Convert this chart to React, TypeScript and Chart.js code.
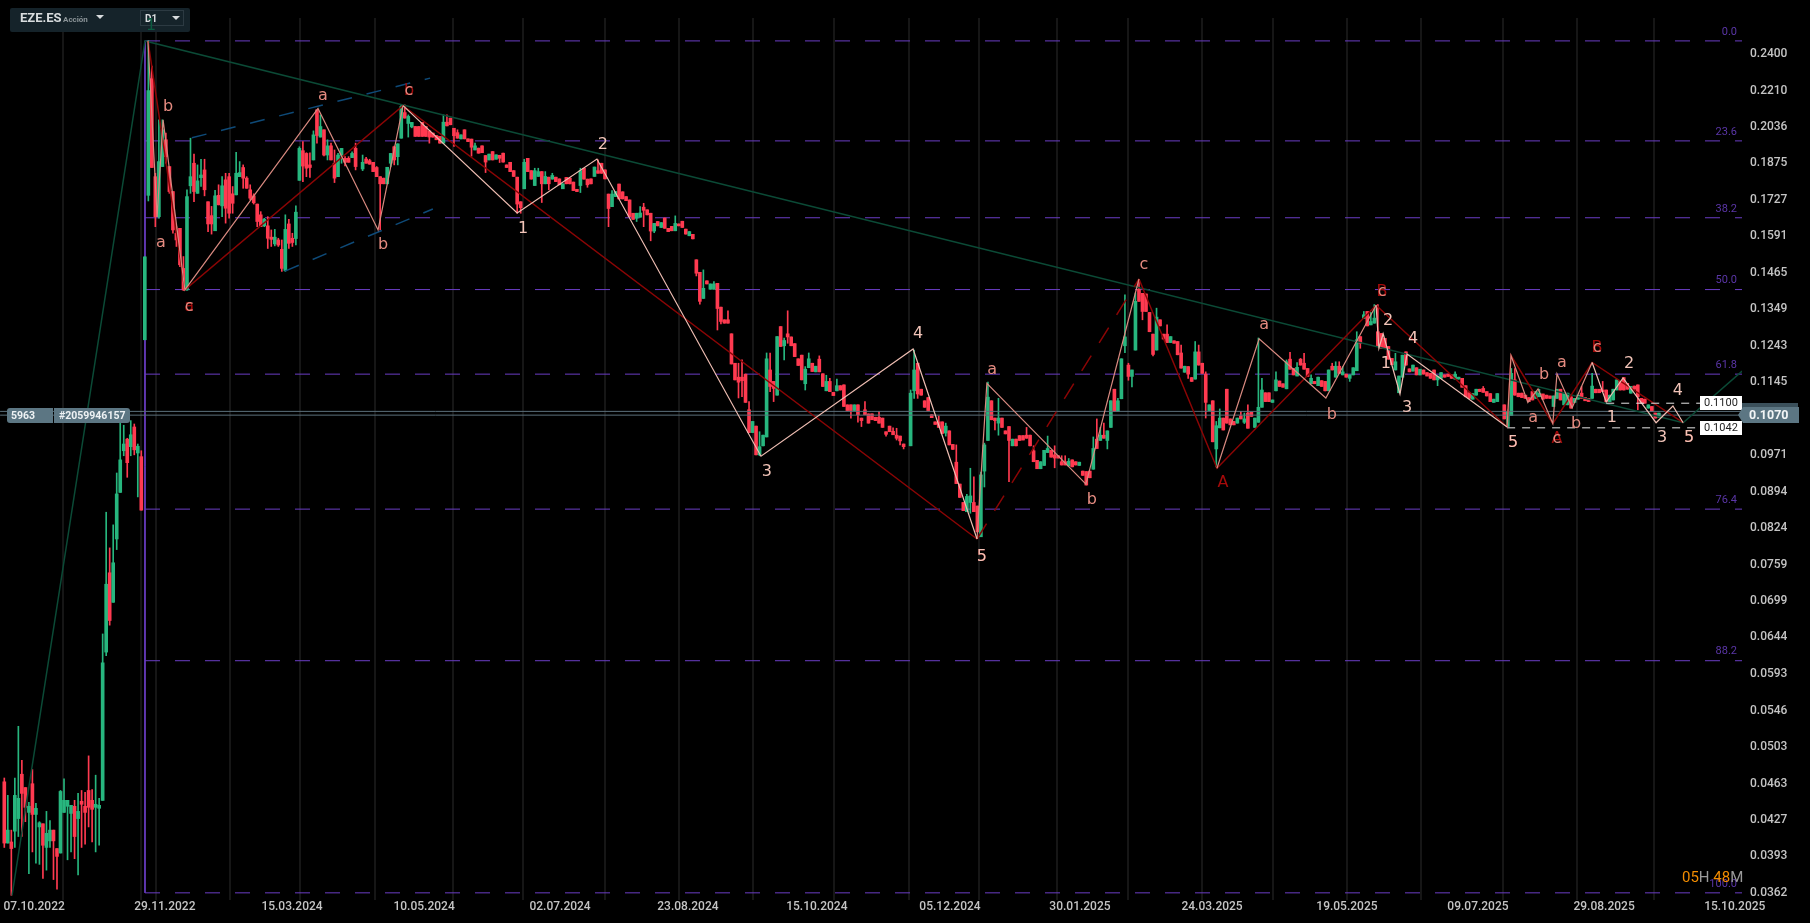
import React, { useEffect, useRef } from "react";
import { Chart, registerables } from "chart.js";

Chart.register(...registerables);

// Each row: [open, close, high?, low?] — price values.
const rally: (number | undefined)[][] = [
[.0465,.0405,.0469,.0401],[.0405,.0417,.0451,.0405],[.0406,.0400,.0417,.0360],[.0416,.0451,.0469,.0401],[.0428,.0448,.0527,.0411],
[.0473,.0453,.0488,.0411],[.0459,.0439,.0459,.0425],[.0434,.0440,.0444,.0378],[.0463,.0432,.0478,.0397],[.0432,.0438,.0443,.0387],
[.0420,.0424,.0425,.0386],[.0423,.0403,.0423,.0374],[.0401,.0414,.0435,.0381],[.0407,.0417,.0426,.0401],[.0417,.0407,.0417,.0373],
[.0400,.0393,.0400,.0365],[.0396,.0455,.0456,.0396],[.0434,.0446,.0468,.0434],[.0440,.0446,.0446,.0390],[.0433,.0441,.0441,.0397],
[.0440,.0411,.0446,.0391],[.0428,.0435,.0453,.0377],[.0445,.0442,.0456,.0401],[.0440,.0434,.0454,.0404],[.0456,.0439,.0493,.0420],
[.0446,.0437,.0457,.0406],[.0439,.0442,.0472,.0397],[.0438,.0441,.0448,.0403],[.0446,.0608,.0649,.0446],[.0623,.0726,.0854,.0618],
[.0745,.0669,.0788,.0662],[.0697,.0762,.0830,.0697],[.0804,.0890,.0933,.0785],[.0893,.0961,.1050,.0893],[.0981,.0996,.1039,.0970],
[.1007,.0955,.1009,.0924],[.0990,.1017,.1050,.0970],[.1035,.0983,.1042,.0972],[.0976,.0991,.0996,.0884],[.0968,.0858,.0981,.0858],
];
const topping: (number | undefined)[][] = [
[.1260,.1519],[.1745,.2210,.2475,.1723],[.2270,.1858,.2336],[.1820,.1663,.1834,.1626],[.1663,.1883,.2069,.1657],[.1862,.2023,.2069],
[.1978,.1904,.2008,.1876],[.1862,.1760,,.1753],[.1760,.1614,,.1602],[.1602,.1578,.1626,.1555],[.1620,.1492,,.1486],[.1480,.1410,.1520,.1408],
[.1410,.1740,.1767,.1408],[.1783,.1820,.1985,.1753],[.1876,.1760,.1915,.1720],[.1753,.1803,.1869],[.1816,.1827,.1893,.1780],[.1848,.1767,.1893,.1743],
[.1720,.1636,,.1608],[.1667,.1636,.1702,.1599],[.1611,.1743,.1765],[.1745,.1708,.1787],[.1704,.1783,.1820,.1663],[.1807,.1695,.1834,.1639],
[.1820,.1676,.1834,.1657],[.1751,.1714,.1780,.1676],[.1747,.1834,.1923],[.1820,.1837,.1883],[.1858,.1814,.1869,.1773],[.1814,.1773,.1820],
[.1767,.1734,.1787,.1727],[.1743,.1716,.1751,.1711],[.1711,.1645,,.1626],[.1670,.1626,.1682],[.1629,.1653,.1657,.1626],[.1629,.1584,.1663,.1548],
[.1588,.1580,.1614,.1555],[.1564,.1588,.1616,.1557],[.1578,.1560,.1584,.1555],[.1545,.1480,.1578,.1470],[.1473,.1616,.1670,.1470],[.1636,.1566,.1653,.1548],
[.1584,.1569,.1602,.1555],[.1583,.1680,.1704,.1560],[.1805,.1940,.1947],[.1930,.1864,.1970,.1800],[.1918,.1855,.1921,.1820],[.1869,.1858,.1921,.1817],
[.1890,.2000,.2018],[.2116,.1997,,.1963],[.1990,.2038,.2092],[.2023,.1911,,.1907],[.1911,.1951,.1978,.1890],[.1951,.1890,.1963],[.1876,.1814,.1933,.1796],
[.1820,.1911,.1918],[.1911,.1940,,.1876],[.1897,.1880,.1904,.1865],[.1897,.1880,.1904],[.1900,.1918,.1925],[.1940,.1862,.1963,.1848],
];
const toppingLate: (number | undefined)[][] = [
[.1852,.1880,.1911,.1845],[.1894,.1876,.1901],[.1887,.1872,.1893],[.1880,.1841],[.1858,.1820,.1862],[.1820,.1791,,.1614],[.1814,.1791],[.1791,.1859],
[.1876,.1918,,.1862],[.1947,.1890,.1950,.1869],[.1904,.1960,,.1869],[.1985,.2132,.2140],[.2103,.2077,.2140],[.2052,.2085,.2092,.1990],[.2036,.2057,,.2032],
[.2038,.1993],[.2038,.1993],[.2057,.1993],[.2038,.1993],[.2018,.1990,,.1963],[.2008,.1990],[.1997,.1978],[.1993,.1963],[.1963,.2058,.2092],[.2058,.2041,.2092],[.2077,.2046],
];
const decline: (number | undefined)[][] = [
[.2030,.1996,,.1948],[.2010,.1985,.2023],[.1982,.2000],[.2023,.1982],[.1982,.1970],[.1981,.1945,,.1906],[.1933,.1951,.1963],[.1941,.1919],[.1951,.1921],[.1909,.1881,,.1837],
[.1890,.1915],[.1926,.1890],[.1893,.1912],[.1910,.1897,,.1879],[.1919,.1881],[.1869,.1858],[.1880,.1841],[.1845,.1821],[.1818,.1711,,.1676],[.1720,.1697,,.1676],
[.1771,.1880,.1893],[.1897,.1841],[.1845,.1810],[.1784,.1845,.1855],[.1821,.1841,.1855],[.1841,.1791,,.1717],[.1791,.1821,.1841],[.1818,.1791,,.1767],[.1810,.1825,.1834],[.1818,.1800],
[.1811,.1787],[.1771,.1791],[.1817,.1791],[.1814,.1791],[.1798,.1764],[.1769,.1760],[.1784,.1845,.1855,.1756],[.1855,.1810],[.1810,.1787,,.1777],[.1811,.1791],
[.1821,.1860],[.1845,.1834,.1890],[.1876,.1834],[.1848,.1811],[.1750,.1694,,.1626],[.1701,.1750,.1764],[.1740,.1760],[.1790,.1731],[.1759,.1731],[.1740,.1724],
[.1727,.1663],[.1676,.1653],[.1657,.1676,,.1645],[.1661,.1677,.1701],[.1699,.1687,.1714,.1626],[.1689,.1670],[.1676,.1610,,.1575],[.1610,.1638,,.1604],[.1645,.1629],[.1623,.1641],
[.1658,.1620],[.1620,.1608],[.1627,.1611],[.1611,.1638,.1666],[.1636,.1629],[.1646,.1623],[.1617,.1599],[.1593,.1608],[.1598,.1582],
];
const breakdown: (number | undefined)[][] = [
[.1509,.1464,,.1455],[.1467,.1374,,.1365],[.1383,.1415,.1475],[.1439,.1429],[.1412,.1429],[.1412,.1429,.1437],[.1431,.1352,,.1288],[.1356,.1313,,.1306],[.1318,.1308],[.1318,.1308,.1345],
[.1277,.1193],[.1195,.1151],[.1158,.1145,.1195,.1105],[.1158,.1149,.1204,.1108],[.1166,.1094],[.1076,.1022,.1096],[.1022,.1048],[.1037,.0972],[.0972,.0990,.1024,.0970],[.0992,.1016],
[.1012,.1207,.1223],[.1177,.1134,.1223,.1121],[.1147,.1129,,.1096],[.1112,.1269],[.1298,.1241],[.1243,.1258,.1265,.1204],[.1277,.1268,.1345,.1250],[.1268,.1243],[.1249,.1213],[.1207,.1189],
[.1217,.1151],[.1141,.1179,.1186,.1125],[.1183,.1207,.1223],[.1195,.1173],[.1172,.1187],[.1206,.1172,.1215],[.1167,.1134],[.1123,.1147,.1163],[.1147,.1121,.1155],[.1119,.1111],
[.1123,.1136,.1153],[.1136,.1125],[.1138,.1084],[.1088,.1074],[.1088,.1074,,.1056],[.1074,.1088],[.1088,.1064,,.1046],[.1056,.1050,,.1036],[.1076,.1064,.1096],[.1066,.1044],
[.1066,.1052],[.1058,.1050],[.1058,.1044,.1072],[.1056,.1034],[.1024,.1018,,.1014],[.1037,.1024],[.1025,.1017,.1033],[.1016,.1009,.1032,.1005],[.1014,.1003,,.0994],[.0996,.0990,,.0985],
];
const rebound: (number | undefined)[][] = [
[.0992,.1117,.1125],[.1123,.1177,.1231,.1104],[.1195,.1115,,.1104],[.1127,.1112],[.1098,.1082],[.1106,.1074],[.1064,.1057],[.1047,.1041],[.1047,.1034,.1061],[.1047,.1020],
[.1021,.1037,.1044,.1014],[.1026,.0994],[.0995,.0984],[.0956,.0911,.0994],[.0910,.0883],[.0873,.0857],[.0855,.0885,.0889],[.0873,.0886,.0943,.0852],[.0873,.0855,.0925],[.0866,.0817],
[.0808,.0929,.0935],[.0937,.0994,.0998,.0904],[.1004,.1107,.1145],[.1098,.1052],[.1056,.1050,,.1028],[.1044,.1056,.1104,.1016],[.1056,.1034],[.1026,.1019],[.1036,.1004,,.0915],[.0992,.1007],
[.1007,.0992],[.1015,.1004],[.1015,.1005],[.1016,.1009,.1034],[.1016,.0992],[.0981,.0957,.0992],[.0960,.0942],[.0942,.0957],[.0949,.0982],[.0977,.0986,.1014],
[.0982,.0967],[.0972,.0965,.0992,.0944],[.0970,.0965],[.0957,.0950,.0970],[.0957,.0950,.0970],[.0948,.0958,.0964],[.0961,.0946],[.0957,.0950],[.0949,.0956],[.0937,.0928],
[.0936,.0908],[.0937,.0923],[.0941,.0986,.1012],[.1007,.0986,.1054],[.1004,.1016,.1034],[.1016,.1009,.1044],[.1004,.1026,,.0985],[.1034,.1098],[.1127,.1072],[.1072,.1098,.1104],
[.1103,.1207],[.1243,.1268,.1394,.1224],
];
const range2025: (number | undefined)[][] = [
[.1190,.1160,.1195,.1150],[.1160,.1177,,.1133],[.1231,.1374,.1400],[.1412,.1374,.1444],[.1399,.1343,,.1318],[.1397,.1343],[.1340,.1283],[.1276,.1219,,.1215],[.1231,.1326,.1353],[.1318,.1300],
[.1276,.1262],[.1276,.1252,.1303],[.1252,.1269],[.1257,.1250],[.1255,.1218],[.1223,.1182,.1245],[.1171,.1187],[.1186,.1166,,.1155],[.1157,.1147],[.1153,.1226,.1255],
[.1226,.1190,.1245],[.1195,.1168],[.1166,.1094,.1172,.1056],[.1074,.1088],[.1098,.1001],[.0985,.1038,.1048,.0946],[.1033,.1056,.1078],[.1056,.1028],[.1127,.1044],[.1054,.1040],
[.1048,.1040],[.1044,.1056],[.1061,.1054,.1072],[.1046,.1054,.1068,.1043],[.1068,.1032,.1088],[.1070,.1060],[.1034,.1056],[.1046,.1082,.1265],[.1082,.1125,.1155],[.1118,.1096],
[.1118,.1096],[.1094,.1100],[.1123,.1151,.1172],[.1148,.1134],[.1141,.1132],[.1128,.1199,.1204],[.1206,.1179,.1225],[.1181,.1164],[.1161,.1184,.1197],[.1206,.1190,.1208],
[.1195,.1179,.1222],[.1181,.1160],[.1141,.1155,.1164],[.1147,.1141],[.1136,.1158],[.1149,.1134],[.1147,.1123],[.1123,.1177],[.1187,.1177,.1195],[.1158,.1187,.1199],
[.1187,.1168,.1199],[.1164,.1172,.1186],[.1166,.1158],[.1155,.1164,,.1147],[.1164,.1183],[.1175,.1260,.1283],[.1269,.1250,,.1236],[.1322,.1333,.1343],[.1343,.1300],[.1303,.1313,.1340],
[.1308,.1323,.1364],[.1283,.1241,.1364],[.1278,.1236],[.1264,.1236],[.1241,.1206],[.1208,.1191],[.1177,.1199,.1222],[.1118,.1161],[.1158,.1217],[.1226,.1190],
[.1180,.1172],[.1174,.1190],[.1183,.1164],[.1164,.1179],[.1177,.1166],[.1170,.1161],[.1168,.1155],[.1177,.1151],[.1151,.1161,,.1136],[.1155,.1170],
[.1164,.1158],[.1166,.1160],[.1164,.1155],[.1153,.1166,.1172],[.1153,.1158],[.1155,.1132],[.1136,.1108],[.1118,.1104],[.1102,.1116],[.1112,.1127],
[.1127,.1121],[.1129,.1119,.1134],[.1121,.1110],[.1116,.1096],[.1094,.1102],[.1096,.1116],
];
const finale: (number | undefined)[][] = [
[.1088,.1054],[.1036,.1070,.1076],[.1062,.1168,.1181],[.1151,.1112,.1181],[.1117,.1108],[.1117,.1106],[.1112,.1104],[.1106,.1096],[.1121,.1100],[.1104,.1121],
[.1108,.1117,.1127],[.1115,.1102],[.1112,.1104],[.1110,.1104],[.1084,.1110],[.1104,.1127],[.1127,.1100],[.1088,.1117],[.1088,.1117],[.1108,.1080],
[.1094,.1104],[.1102,.1112],[.1117,.1104,.1134],[.1106,.1098],[.1104,.1096],[.1104,.1135,.1168],[.1127,.1118],[.1127,.1118],[.1125,.1121,.1147],[.1125,.1096],
[.1096,.1112],[.1100,.1127],[.1125,.1151],[.1147,.1125],[.1157,.1125],[.1142,.1127],[.1117,.1134],[.1135,.1127],[.1138,.1108,,.1076],[.1104,.1092],
[.1102,.1092],[.1080,.1088],[.1084,.1072],[.1068,.1056],[.1058,.1068],
];
const segmentStarts = [0, 40, 102, 128, 197, 258, 320, 427];
const segments = [rally, topping, toppingLate, decline, breakdown, rebound, range2025, finale];

const yTicks = [0.24, 0.221, 0.2036, 0.1875, 0.1727, 0.1591, 0.1465, 0.1349, 0.1243, 0.1145, 0.1055, 0.0971, 0.0894, 0.0824, 0.0759, 0.0699, 0.0644, 0.0593, 0.0546, 0.0503, 0.0463, 0.0427, 0.0393, 0.0362];
const xTickIndex = [8.5, 45.7, 81.9, 119.5, 158.2, 194.6, 231.3, 269.2, 306.2, 343.8, 382.2, 419.5, 455.4, 492.6];
const xTickText = ["07.10.2022", "29.11.2022", "15.03.2024", "10.05.2024", "02.07.2024", "23.08.2024", "15.10.2024", "05.12.2024", "30.01.2025", "24.03.2025", "19.05.2025", "09.07.2025", "29.08.2025", "15.10.2025"];
const gridIndex = [16.7, 38.9, 43.2, 64.2, 84.2, 105.5, 127.7, 147.7, 171, 192.1, 213.1, 236.2, 257.5, 277.5, 299.7, 319.9, 341, 361.1, 382.3, 403.3, 426.6, 447.7, 469.6];

const fibPrices = [0.2472, 0.1973, 0.1659, 0.1411, 0.1166, 0.086, 0.0611, 0.0362];
const fibNames = ["0.0", "23.6", "38.2", "50.0", "61.8", "76.4", "88.2", "100.0"];
const fibStart = 40.05;
const fibEnd = 494.7;

const majorWave = [[2.2, 0.036], [40.05, 0.2472], [477.9, 0.1045], [494.7, 0.1174]];
const redWaveA = [[40.9, 0.2472], [51.4, 0.141], [113.5, 0.2136], [276.9, 0.0804]];
const redWaveDash = [[276.9, 0.0804], [323, 0.1445]];
const redWaveB = [[323, 0.1445], [345.2, 0.0943], [390.5, 0.1362], [427.8, 0.1035], [428.9, 0.1216], [440.8, 0.1043], [452, 0.1197], [477.9, 0.1045]];
const salmonA = [[40.9, 0.2472], [43.5, 0.1662], [45.2, 0.2069], [51.4, 0.141], [89.3, 0.2123], [106.4, 0.1614], [113.5, 0.2136]];
const salmonB = [[276.9, 0.0804], [279.7, 0.1142], [307.9, 0.091], [323, 0.1445]];
const salmonC = [[345.2, 0.0943], [357.2, 0.1263], [376.2, 0.1105], [390.5, 0.1362]];
const salmonD = [[427.8, 0.1035], [428.9, 0.1216], [433.7, 0.1094], [436.6, 0.1128], [440.8, 0.1043], [442, 0.1167], [446.3, 0.1081], [452, 0.1197]];
const paleA = [[113.5, 0.2136], [146, 0.1677], [168.7, 0.1894], [215.4, 0.0969], [258.7, 0.1234], [276.9, 0.0804]];
const paleB = [[390.5, 0.1362], [391.3, 0.1236], [392.5, 0.1277], [397.3, 0.1115], [399.3, 0.122], [427.8, 0.1035]];
const paleC = [[452, 0.1197], [456, 0.1095], [460.8, 0.1156], [470.2, 0.1045], [475, 0.1085], [477.9, 0.1045]];
const channelTop = [[53.4, 0.1987], [121.2, 0.2273]];
const channelBottom = [[79.9, 0.1471], [122, 0.1692]];
const whiteLow = [[427.8, 0.1033], [482.7, 0.1033]];
const whiteHigh = [[456, 0.1092], [482.7, 0.1092]];
const priceLineA = [[-1.2, 0.1072], [494.7, 0.1072]];
const priceLineB = [[-1.2, 0.1063], [494.7, 0.1063]];

const PALE = "#f2c4b8";
const SALMON = "#e58b80";
const DARKRED = "#a50a0a";
const DARKGREEN = "#0b5a3f";
// [candle index, price, text, colour] — later rows paint over earlier ones.
const waveLabels: [number, number, string, string][] = [
  [147.7, 0.1618, "1", PALE], [170.4, 0.1955, "2", PALE], [217.1, 0.0935, "3", PALE], [260.1, 0.1277, "4", PALE],
  [278.3, 0.0773, "5", DARKRED], [278.3, 0.0773, "5", PALE], [393.9, 0.1315, "2", PALE], [401, 0.1263, "4", PALE],
  [393.3, 0.1193, "1", PALE], [399.3, 0.1081, "3", PALE], [429.5, 0.0998, "5", DARKRED], [429.5, 0.0998, "5", PALE],
  [457.6, 0.1057, "1", PALE], [462.5, 0.1193, "2", PALE], [471.9, 0.101, "3", PALE], [476.4, 0.1122, "4", PALE],
  [479.6, 0.101, "5", DARKGREEN], [479.6, 0.101, "5", DARKRED], [479.6, 0.101, "5", PALE],
  [46.6, 0.213, "b", SALMON], [44.6, 0.1567, "a", SALMON], [52.6, 0.1357, "a", DARKRED], [52.6, 0.1357, "c", SALMON],
  [90.7, 0.2186, "a", SALMON], [115.2, 0.2207, "b", DARKRED], [115.2, 0.2207, "c", SALMON], [107.8, 0.156, "b", SALMON],
  [281.2, 0.1177, "a", SALMON], [309.6, 0.0878, "b", SALMON], [324.4, 0.1492, "c", SALMON], [358.6, 0.1303, "a", SALMON],
  [377.9, 0.1064, "b", SALMON], [392.2, 0.1403, "B", DARKRED], [392.2, 0.1403, "c", SALMON], [346.9, 0.0912, "A", DARKRED],
  [435.2, 0.1057, "a", SALMON], [438.3, 0.1163, "b", SALMON], [443.4, 0.1196, "a", SALMON], [447.4, 0.1043, "b", SALMON],
  [442, 0.1008, "A", DARKRED], [442, 0.1008, "c", SALMON], [453.4, 0.1237, "B", DARKRED], [453.4, 0.1237, "c", SALMON],
  [41.8, 0.257, "1", DARKGREEN],
];

const UP = "#27b67e";
const DOWN = "#ff3a50";
const FIB = "#6a3dc4";

function pts(list: number[][]) {
  return list.map(([x, y]) => ({ x, y }));
}
function line(list: number[][], color: string, width: number, order: number, dash: number[] = []) {
  return {
    type: "line" as const,
    data: pts(list),
    borderColor: color,
    borderWidth: width,
    borderDash: dash,
    pointRadius: 0,
    tension: 0,
    fill: false,
    order,
  };
}

const candleRows = segments.flatMap((seg, s) =>
  seg.map((r, j) => {
    const [o, c, h, l] = r as number[];
    return { i: segmentStarts[s] + j, o, c, h: h ?? Math.max(o, c), l: l ?? Math.min(o, c) };
  })
);

const overlayPlugin = {
  id: "overlay",
  afterDatasetsDraw(chart: any) {
    const { ctx, scales } = chart;
    const X = scales.x;
    const Y = scales.y;
    ctx.save();
    ctx.textBaseline = "middle";
    // wave labels
    ctx.textAlign = "center";
    ctx.font = '16px "DejaVu Sans"';
    for (const [i, p, t, col] of waveLabels) {
      ctx.fillStyle = col;
      ctx.fillText(t, X.getPixelForValue(i), Y.getPixelForValue(p));
    }
    // fibonacci names
    ctx.textAlign = "right";
    ctx.font = '11px Roboto';
    ctx.fillStyle = "#5b36a8";
    fibNames.forEach((n, k) => ctx.fillText(n, 1737, Y.getPixelForValue(fibPrices[k]) - 9));
    // header
    ctx.textAlign = "left";
    ctx.fillStyle = "#15232a";
    ctx.beginPath();
    ctx.roundRect(10, 8, 180, 24, 2);
    ctx.fill();
    ctx.font = 'bold 13px Roboto';
    ctx.fillStyle = "#d8dcde";
    ctx.fillText("EZE.ES", 20, 19);
    ctx.font = 'bold 8px Roboto';
    ctx.fillStyle = "#8b9498";
    ctx.fillText("Acción", 63, 20);
    ctx.fillStyle = "#d8dcde";
    ctx.beginPath(); ctx.moveTo(96, 15); ctx.lineTo(104, 15); ctx.lineTo(100, 19); ctx.fill();
    ctx.beginPath(); ctx.moveTo(172, 16); ctx.lineTo(180, 16); ctx.lineTo(176, 20); ctx.fill();
    ctx.strokeStyle = "#2c3a42";
    ctx.lineWidth = 1;
    ctx.strokeRect(140.5, 10.5, 43, 15);
    ctx.font = 'bold 10px Roboto';
    ctx.fillText("D1", 145, 19);
    ctx.font = '16px "DejaVu Sans"';
    ctx.textAlign = "center";
    ctx.fillStyle = DARKGREEN;
    ctx.fillText("1", 151, 26);
    // left tag
    ctx.textAlign = "left";
    ctx.fillStyle = "#5c7683";
    ctx.beginPath(); ctx.roundRect(7, 408, 46, 15, [3, 0, 0, 3]); ctx.fill();
    ctx.beginPath(); ctx.roundRect(54, 408, 76, 15, [0, 3, 3, 0]); ctx.fill();
    ctx.font = 'bold 10.5px Roboto';
    ctx.fillStyle = "#eef2f4";
    ctx.fillText("5963", 11, 416);
    ctx.fillText("#2059946157", 59, 416);
    // level boxes
    ctx.fillStyle = "#ffffff";
    ctx.fillRect(1700, 396, 42, 14);
    ctx.fillRect(1700, 421, 42, 14);
    ctx.fillStyle = "#222";
    ctx.font = '11px Roboto';
    ctx.fillText("0.1100", 1704, 403.5);
    ctx.fillText("0.1042", 1704, 428.5);
    // right price tag
    ctx.fillStyle = "#3b505b";
    ctx.fillRect(1742, 403, 56, 6);
    ctx.fillStyle = "#5c7683";
    ctx.beginPath();
    ctx.moveTo(1738, 415); ctx.lineTo(1743, 407); ctx.lineTo(1799, 407); ctx.lineTo(1799, 423); ctx.lineTo(1743, 423);
    ctx.closePath(); ctx.fill();
    ctx.fillStyle = "#f2f5f6";
    ctx.font = 'bold 12.5px Roboto';
    ctx.fillText("0.1070", 1749, 415.5);
    // countdown
    ctx.font = '15px Roboto';
    let x = 1682;
    for (const [t, col] of [["05", "#f28c00"], ["H ", "#9a9a9a"], ["48", "#f28c00"], ["M", "#9a9a9a"]]) {
      ctx.fillStyle = col;
      ctx.fillText(t, x, 878);
      x += ctx.measureText(t).width;
    }
    ctx.restore();
  },
};

export default function App() {
  const ref = useRef<HTMLCanvasElement | null>(null);
  useEffect(() => {
    document.body.style.margin = "0";
    document.body.style.background = "#000";
    const datasets: any[] = [
      {
        type: "bar",
        data: candleRows.map((r) => ({ x: r.i, y: [r.l, r.h] })),
        backgroundColor: candleRows.map((r) => (r.c >= r.o ? UP : DOWN)),
        barThickness: 1,
        grouped: false,
        order: 11,
      },
      {
        type: "bar",
        data: candleRows.map((r) => ({ x: r.i, y: [r.o, r.c] })),
        backgroundColor: candleRows.map((r) => (r.c >= r.o ? UP : DOWN)),
        barThickness: 3,
        minBarLength: 1,
        grouped: false,
        order: 10,
      },
      ...fibPrices.map((p) => line([[fibStart, p], [fibEnd, p]], FIB, 1, 12, [15, 15])),
      line([[fibStart, 0.2472], [fibStart, 0.0362]], FIB, 1, 12),
      line(priceLineA, "#5a6f7a", 1, 9),
      line(priceLineB, "#5a6f7a", 1, 9),
      line(majorWave, "#0b4a36", 1.5, 8),
      line(channelTop, "#0e4a78", 1.5, 8, [15, 15]),
      line(channelBottom, "#0e4a78", 1.5, 8, [15, 15]),
      line(redWaveA, "#8b0505", 1.5, 7),
      line(redWaveDash, "#8b0505", 1.5, 7, [18, 15]),
      line(redWaveB, "#8b0505", 1.5, 7),
      line(salmonA, "#d98a80", 1.2, 6),
      line(salmonB, "#d98a80", 1.2, 6),
      line(salmonC, "#d98a80", 1.2, 6),
      line(salmonD, "#d98a80", 1.2, 6),
      line(paleA, "#eebdb2", 1.2, 5),
      line(paleB, "#eebdb2", 1.2, 5),
      line(paleC, "#eebdb2", 1.2, 5),
      line(whiteLow, "#e6e6e6", 1, 4, [8, 7]),
      line(whiteHigh, "#e6e6e6", 1, 4, [8, 7]),
    ];
    const allX = [...gridIndex, ...xTickIndex].sort((a, b) => a - b);
    const chart = new Chart(ref.current as HTMLCanvasElement, {
      type: "bar",
      data: { datasets },
      plugins: [overlayPlugin],
      options: {
        animation: false,
        responsive: false,
        devicePixelRatio: 1,
        layout: { padding: { top: 18, left: 0, right: 0, bottom: 0 } },
        plugins: { legend: { display: false }, tooltip: { enabled: false }, title: { display: false } },
        events: [],
        scales: {
          x: {
            type: "linear",
            offset: false,
            min: -1.224,
            max: 494.66,
            border: { display: false },
            afterFit(s: any) { s.height = 23; s.paddingLeft = 0; s.paddingRight = 0; },
            afterBuildTicks(s: any) { s.ticks = allX.map((value) => ({ value })); },
            grid: {
              offset: false,
              drawTicks: false,
              lineWidth: 2,
              color: (c: any) => (c.tick && gridIndex.includes(c.tick.value) ? "#161616" : "rgba(0,0,0,0)"),
            },
            ticks: {
              autoSkip: false,
              maxRotation: 0,
              padding: 0,
              color: "#c4c4c4",
              font: { family: "Roboto", size: 12, weight: "500" },
              callback: (v: any) => {
                const k = xTickIndex.indexOf(v);
                return k >= 0 ? xTickText[k] : "";
              },
            },
          },
          y: {
            type: "logarithmic",
            position: "right",
            min: 0.03562,
            max: 0.2603,
            border: { display: false },
            afterFit(s: any) { s.width = 68; s.paddingTop = 0; s.paddingBottom = 0; },
            afterBuildTicks(s: any) { s.ticks = yTicks.map((value) => ({ value })); },
            grid: { display: false, drawTicks: false },
            ticks: {
              autoSkip: false,
              padding: 8,
              crossAlign: "near",
              color: "#c4c4c4",
              font: { family: "Roboto", size: 12, weight: "500" },
              callback: (v: any) => Number(v).toFixed(4),
            },
          },
        },
      } as any,
    });
    return () => chart.destroy();
  }, []);
  return <canvas ref={ref} width={1810} height={923} style={{ display: "block", width: 1810, height: 923, background: "#000" }} />;
}
